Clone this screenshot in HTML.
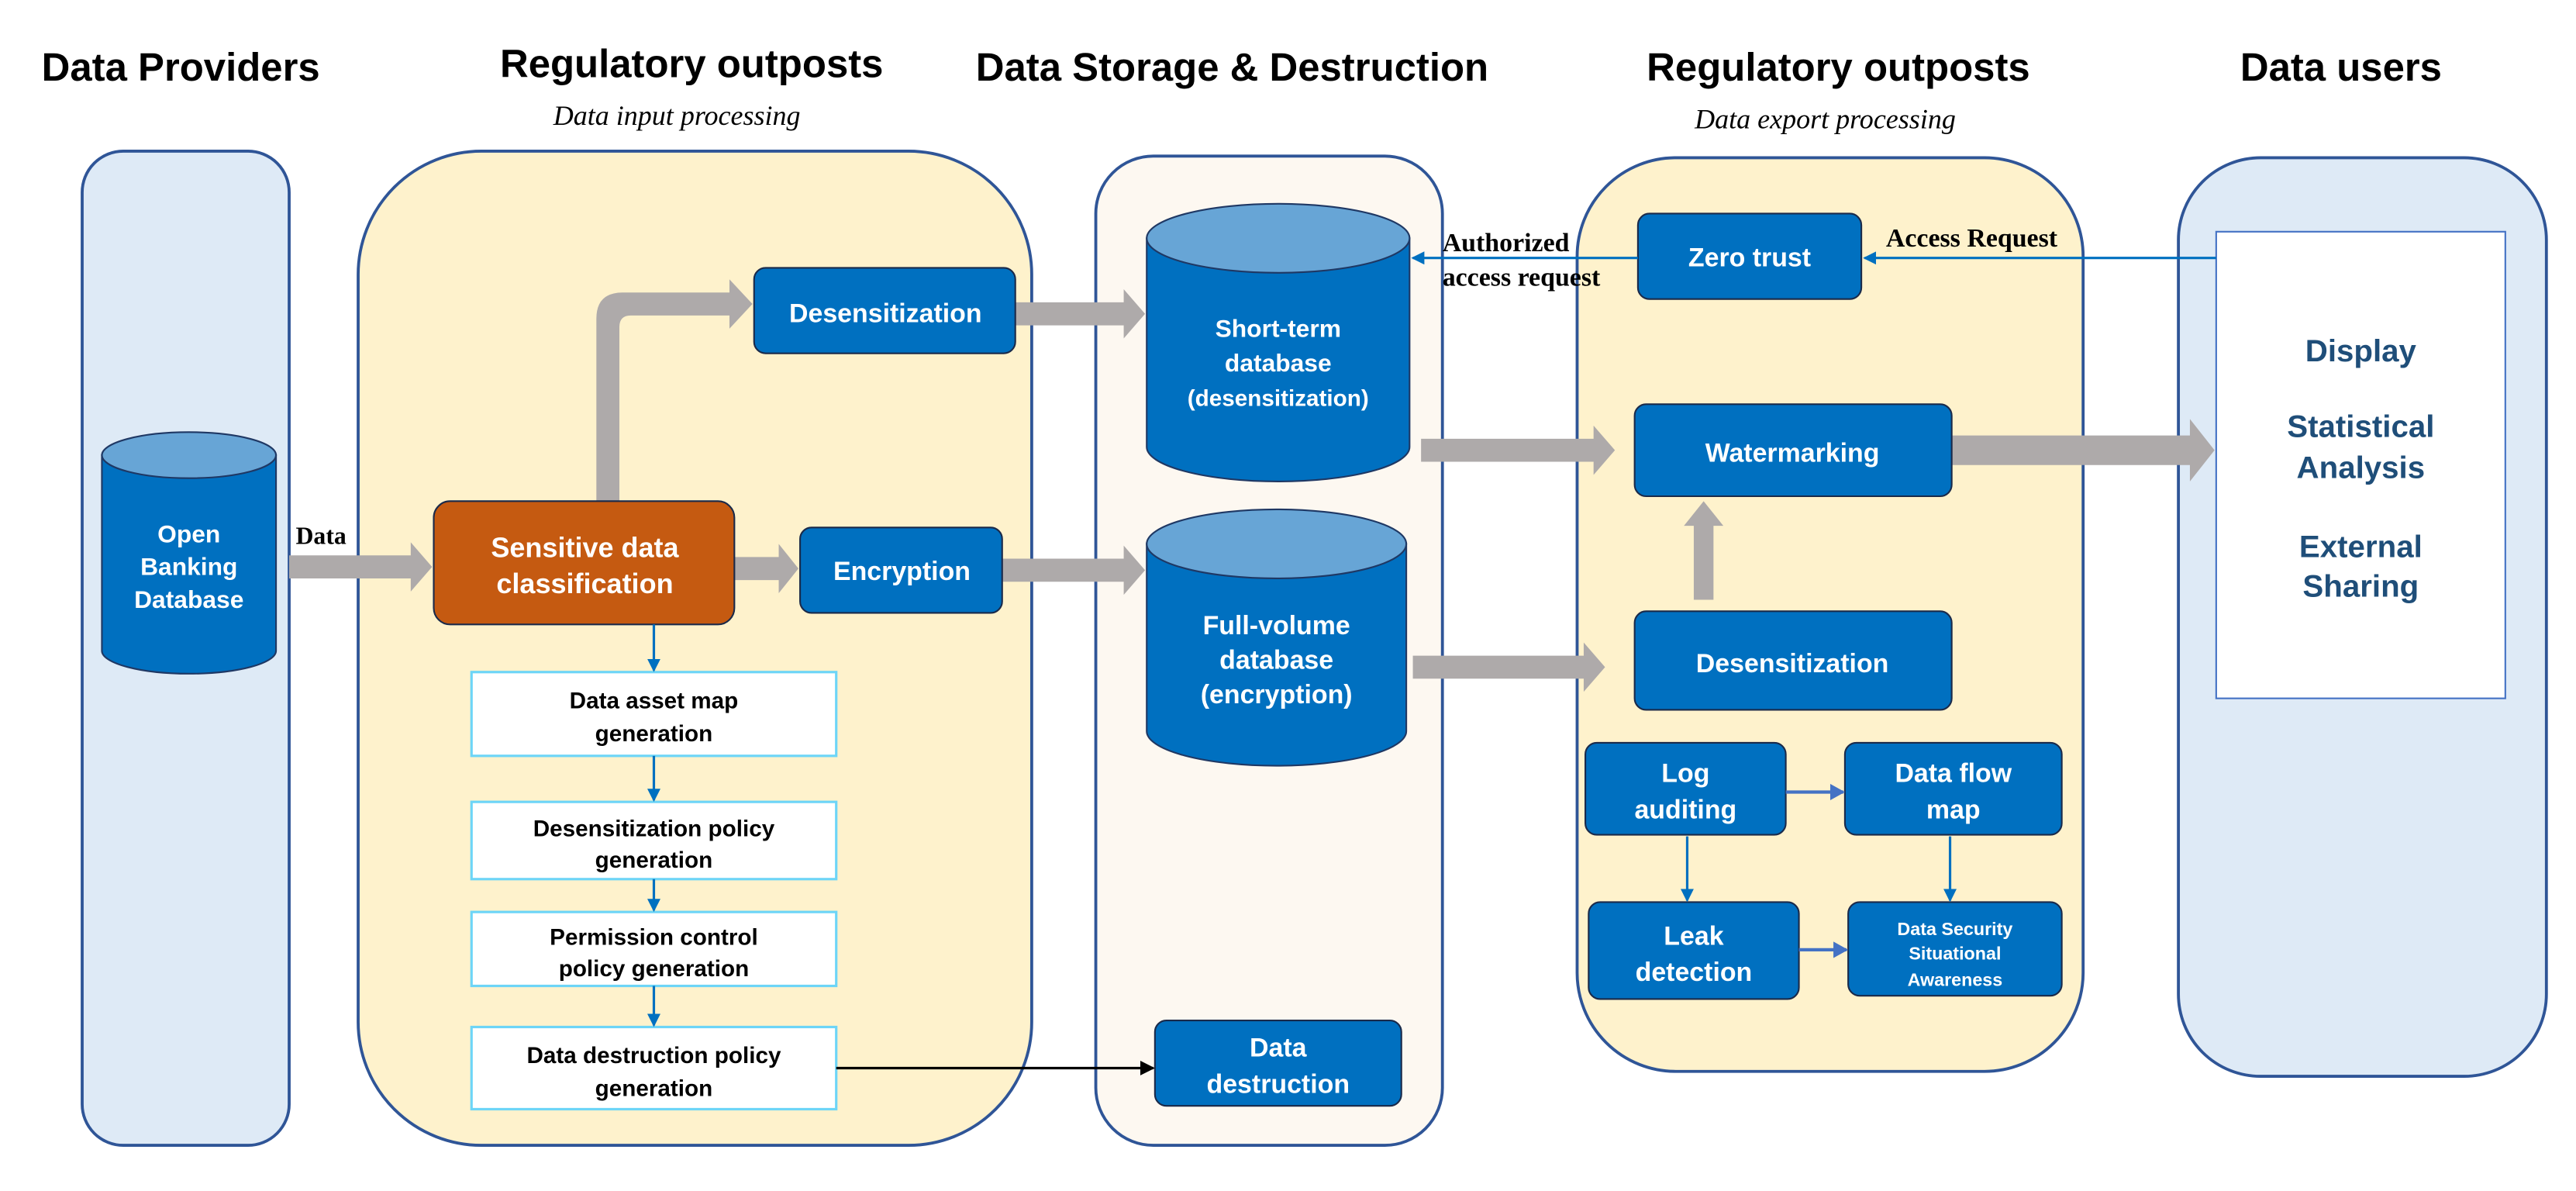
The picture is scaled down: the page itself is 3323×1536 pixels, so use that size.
<!DOCTYPE html>
<html><head><meta charset="utf-8"><style>
html,body{margin:0;padding:0;background:#fff;}
svg{display:block;}
.t{font-family:"Liberation Sans",sans-serif;font-weight:bold;}
.w{fill:#fff;}
.s{font-family:"Liberation Serif",serif;font-weight:bold;}
</style></head><body>
<svg width="3323" height="1536" viewBox="0 0 1568 724.8" xmlns="http://www.w3.org/2000/svg">
<defs>
<marker id="bh" markerWidth="8" markerHeight="8" refX="7" refY="4" orient="auto" markerUnits="userSpaceOnUse"><path d="M0,0 L8,4 L0,8 z" fill="#0070c0"/></marker>
<marker id="kh" markerWidth="9" markerHeight="9" refX="8" refY="4.5" orient="auto" markerUnits="userSpaceOnUse"><path d="M0,0 L9,4.5 L0,9 z" fill="#000"/></marker>
<marker id="lh" markerWidth="9" markerHeight="10" refX="8" refY="5" orient="auto" markerUnits="userSpaceOnUse"><path d="M0,0 L9,5 L0,10 z" fill="#4472c4"/></marker>
</defs>
<g class="t" font-size="24" text-anchor="middle" fill="#000">
<text x="110" y="49">Data Providers</text>
<text x="421" y="47">Regulatory outposts</text>
<text x="750" y="49">Data Storage &amp; Destruction</text>
<text x="1119" y="49">Regulatory outposts</text>
<text x="1425" y="49">Data users</text>
</g>
<g font-family="Liberation Serif,serif" font-style="italic" font-size="17" text-anchor="middle">
<text x="412" y="76">Data input processing</text>
<text x="1111" y="78">Data export processing</text>
</g>
<rect x="50" y="92" width="126" height="605" rx="25" fill="#deeaf6" stroke="#2f5597" stroke-width="1.8"/>
<rect x="218" y="92" width="410" height="605" rx="75" fill="#fef2cc" stroke="#2f5597" stroke-width="1.8"/>
<rect x="667" y="95" width="211" height="602" rx="35" fill="#fdf8f1" stroke="#2f5597" stroke-width="1.8"/>
<rect x="960" y="96" width="308" height="556" rx="60" fill="#fef2cc" stroke="#2f5597" stroke-width="1.8"/>
<rect x="1326" y="96" width="224" height="559" rx="50" fill="#deeaf6" stroke="#2f5597" stroke-width="1.8"/>
<rect x="1349" y="141" width="176" height="284" fill="#fff" stroke="#4472c4" stroke-width="1"/>
<g class="t" font-size="19" text-anchor="middle" fill="#1f4e79">
<text x="1437" y="220">Display</text>
<text x="1437" y="266">Statistical</text>
<text x="1437" y="291">Analysis</text>
<text x="1437" y="339">External</text>
<text x="1437" y="363">Sharing</text>
</g>
<g fill="#aeaaaa">
<path d="M176,338 H250 V330 L263,345 L250,360 V352 H176 z"/>
<path d="M363,305 V194 Q363,178 379,178 H444 V170 L458,185 L444,200 V192 H384 Q377,192 377,199 V305 z"/>
<path d="M447,339 H474 V331 L486,346 L474,361 V353 H447 z"/>
<path d="M618,184 H684 V176 L697,191 L684,206 V198 H618 z"/>
<path d="M610,340 H684 V332 L697,347 L684,362 V354 H610 z"/>
<path d="M865,267 H970 V259 L983,274 L970,289 V281 H865 z"/>
<path d="M860,399 H964 V391 L977,406 L964,421 V413 H860 z"/>
<path d="M1188,265 H1333 V255 L1348,274 L1333,293 V283 H1188 z"/>
<path d="M1031,365 V320 H1025 L1037,305 L1049,320 H1043 V365 z"/>
</g>
<g stroke="#1f3864" stroke-width="1">
<path d="M62,277 V396 A53,14 0 0 0 168,396 V277 z" fill="#0070c0"/>
<ellipse cx="115" cy="277" rx="53" ry="14" fill="#67a5d6"/>
<path d="M698,145 V272 A80,21 0 0 0 858,272 V145 z" fill="#0070c0"/>
<ellipse cx="778" cy="145" rx="80" ry="21" fill="#67a5d6"/>
<path d="M698,331 V445 A79,21 0 0 0 856,445 V331 z" fill="#0070c0"/>
<ellipse cx="777" cy="331" rx="79" ry="21" fill="#67a5d6"/>
</g>
<g class="t w" font-size="15" text-anchor="middle">
<text x="115" y="330">Open</text>
<text x="115" y="350">Banking</text>
<text x="115" y="370">Database</text>
<text x="778" y="205">Short-term</text>
<text x="778" y="226">database</text>
<text x="778" y="247" font-size="14">(desensitization)</text>
<text x="777" y="386" font-size="16">Full-volume</text>
<text x="777" y="407" font-size="16">database</text>
<text x="777" y="428" font-size="16">(encryption)</text>
</g>
<text x="180" y="331" class="s" font-size="15">Data</text>
<g stroke="#1a2a4a" stroke-width="1">
<rect x="264" y="305" width="183" height="75" rx="10" fill="#c55a11"/>
<rect x="459" y="163" width="159" height="52" rx="7" fill="#0070c0"/>
<rect x="487" y="321" width="123" height="52" rx="7" fill="#0070c0"/>
<rect x="703" y="621" width="150" height="52" rx="7" fill="#0070c0"/>
<rect x="997" y="130" width="136" height="52" rx="7" fill="#0070c0"/>
<rect x="995" y="246" width="193" height="56" rx="7" fill="#0070c0"/>
<rect x="995" y="372" width="193" height="60" rx="7" fill="#0070c0"/>
<rect x="965" y="452" width="122" height="56" rx="7" fill="#0070c0"/>
<rect x="1123" y="452" width="132" height="56" rx="7" fill="#0070c0"/>
<rect x="967" y="549" width="128" height="59" rx="7" fill="#0070c0"/>
<rect x="1125" y="549" width="130" height="57" rx="7" fill="#0070c0"/>
</g>
<g class="t w" font-size="16" text-anchor="middle">
<text x="356" y="339" font-size="17">Sensitive data</text>
<text x="356" y="361" font-size="17">classification</text>
<text x="539" y="196">Desensitization</text>
<text x="549" y="353">Encryption</text>
<text x="778" y="643">Data</text>
<text x="778" y="665">destruction</text>
<text x="1065" y="162">Zero trust</text>
<text x="1091" y="281">Watermarking</text>
<text x="1091" y="409">Desensitization</text>
<text x="1026" y="476">Log</text>
<text x="1026" y="498">auditing</text>
<text x="1189" y="476">Data flow</text>
<text x="1189" y="498">map</text>
<text x="1031" y="575">Leak</text>
<text x="1031" y="597">detection</text>
<text x="1190" y="569" font-size="11">Data Security</text>
<text x="1190" y="584" font-size="11">Situational</text>
<text x="1190" y="600" font-size="11">Awareness</text>
</g>
<g fill="#fff" stroke="#6dd5f7" stroke-width="1.5">
<rect x="287" y="409" width="222" height="51"/>
<rect x="287" y="488" width="222" height="47"/>
<rect x="287" y="555" width="222" height="45"/>
<rect x="287" y="625" width="222" height="50"/>
</g>
<g class="t" font-size="14" text-anchor="middle" fill="#000">
<text x="398" y="431">Data asset map</text>
<text x="398" y="451">generation</text>
<text x="398" y="509">Desensitization policy</text>
<text x="398" y="528">generation</text>
<text x="398" y="575">Permission control</text>
<text x="398" y="594">policy generation</text>
<text x="398" y="647">Data destruction policy</text>
<text x="398" y="667">generation</text>
</g>
<g stroke="#0070c0" stroke-width="1.5" fill="none" marker-end="url(#bh)">
<line x1="398" y1="380" x2="398" y2="408"/>
<line x1="398" y1="460" x2="398" y2="487"/>
<line x1="398" y1="535" x2="398" y2="554"/>
<line x1="398" y1="600" x2="398" y2="624"/>
<line x1="1349" y1="157" x2="1135" y2="157"/>
<line x1="997" y1="157" x2="860" y2="157"/>
<line x1="1027" y1="509" x2="1027" y2="548"/>
<line x1="1187" y1="509" x2="1187" y2="548"/>
</g>
<g stroke="#4472c4" stroke-width="2" fill="none" marker-end="url(#lh)">
<line x1="1087" y1="482" x2="1122" y2="482"/>
<line x1="1095" y1="578" x2="1124" y2="578"/>
</g>
<line x1="509" y1="650" x2="702" y2="650" stroke="#000" stroke-width="1.5" marker-end="url(#kh)"/>
<g class="s" font-size="16">
<text x="878" y="153">Authorized</text>
<text x="878" y="174">access request</text>
<text x="1148" y="150">Access Request</text>
</g>
</svg>
</body></html>
